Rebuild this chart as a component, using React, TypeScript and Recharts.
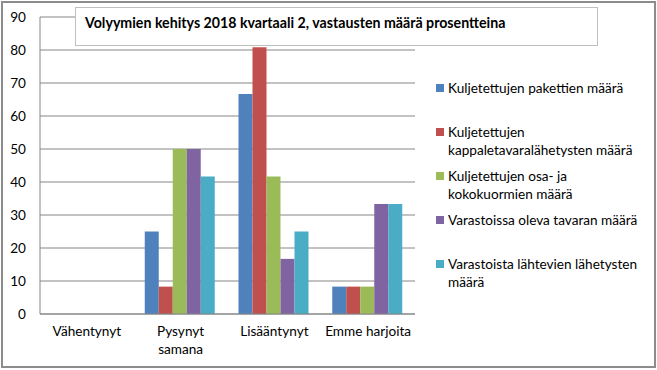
import { BarChart, Bar, XAxis, YAxis, CartesianGrid } from 'recharts'

const categories = ['Vähentynyt', 'Pysynyt\nsamana', 'Lisääntynyt', 'Emme harjoita']

const seriesNames = [
  'Kuljetettujen pakettien määrä',
  'Kuljetettujen\nkappaletavaralähetysten määrä',
  'Kuljetettujen osa- ja\nkokokuormien määrä',
  'Varastoissa oleva tavaran määrä',
  'Varastoista lähtevien lähetysten\nmäärä',
]

const pakettien = [0, 25, 66.7, 8.3]
const kappaletavara = [0, 8.3, 80.8, 8.3]
const kuormat = [0, 50, 41.7, 8.3]
const varastoissa = [0, 50, 16.7, 33.3]
const lahtevat = [0, 41.7, 25, 33.3]

const yTicks = [0, 10, 20, 30, 40, 50, 60, 70, 80, 90]
const edgeTicks = [0, 1, 2, 3, 4]

const COLORS = ['#4F81BD', '#C0504D', '#9BBB59', '#8064A2', '#4BACC6']
const FONT = 'Lato, "Open Sans", sans-serif'
const GRID = '#868686'
const TXT = 13.6

const seriesValues = [pakettien, kappaletavara, kuormat, varastoissa, lahtevat]

const data = categories.map((name, i) => {
  const row: Record<string, string | number> = { name }
  seriesValues.forEach((vals, s) => {
    row['s' + s] = vals[i]
  })
  return row
})

// kategorian nimi voi olla kahdella rivillä
function CategoryTick({ x, y, payload }: any) {
  const lines = String(payload.value).split('\n')
  return (
    <text x={x} y={y} textAnchor="middle" fontSize={TXT} fill="#000" fontFamily={FONT}>
      {lines.map((line, i) => (
        <tspan key={i} x={x} dy={i === 0 ? 22 : 18}>
          {line}
        </tspan>
      ))}
    </text>
  )
}

// selite piirretään kaavion oikealle puolelle
function LegendBox() {
  return (
    <div style={{ position: 'absolute', left: 430, top: 79, width: 224, fontFamily: FONT, fontSize: TXT }}>
      {seriesNames.map((n, i) => (
        <div key={i} style={{ position: 'absolute', left: 0, top: i * 44, width: 224 }}>
          <span
            style={{ position: 'absolute', left: 6, top: 5, width: 8, height: 8, background: COLORS[i] }}
          />
          <div style={{ marginLeft: 18, lineHeight: '18px', whiteSpace: 'pre-line', color: '#000' }}>{n}</div>
        </div>
      ))}
    </div>
  )
}

export default function App() {
  return (
    <div style={{ position: 'absolute', left: 0, top: 0, width: 657, height: 370, background: '#fff' }}>
      <div
        style={{
          position: 'absolute',
          left: 1,
          top: 1,
          width: 655,
          height: 367,
          boxSizing: 'border-box',
          border: '2px solid #8c8c8c',
        }}
      />
      <div style={{ position: 'absolute', left: 0, top: 0 }}>
        <BarChart
          width={657}
          height={370}
          data={data}
          margin={{ top: 17, right: 242, bottom: 16, left: 0 }}
          barCategoryGap={11}
          barGap={0}
        >
          <CartesianGrid vertical={false} stroke={GRID} />
          <XAxis
            xAxisId="edge"
            type="number"
            domain={[0, 4]}
            ticks={edgeTicks}
            allowDataOverflow
            height={0}
            axisLine={false}
            tick={false}
            tickSize={5}
            tickLine={{ stroke: GRID }}
          />
          <XAxis
            dataKey="name"
            interval={0}
            height={40}
            axisLine={{ stroke: GRID }}
            tickLine={false}
            tickSize={0}
            tickMargin={0}
            tick={<CategoryTick />}
          />
          <YAxis
            width={40}
            domain={[0, 90]}
            ticks={yTicks}
            interval={0}
            axisLine={{ stroke: GRID }}
            tickLine={false}
            tickSize={0}
            tickMargin={14}
            tick={{ fontSize: TXT, fill: '#000', fontFamily: FONT }}
          />
          {seriesNames.map((n, i) => (
            <Bar key={i} dataKey={'s' + i} name={n} fill={COLORS[i]} isAnimationActive={false} />
          ))}
        </BarChart>
      </div>
      <LegendBox />
      <div
        style={{
          position: 'absolute',
          left: 75,
          top: 7,
          width: 523,
          height: 39,
          boxSizing: 'border-box',
          border: '1px solid #bfbfbf',
          background: '#fff',
          fontFamily: FONT,
          fontWeight: 'bold',
          fontSize: 14.2,
          lineHeight: '18px',
          paddingTop: 6,
          paddingLeft: 9,
          color: '#000',
        }}
      >
        Volyymien kehitys 2018 kvartaali 2, vastausten määrä prosentteina
      </div>
    </div>
  )
}
